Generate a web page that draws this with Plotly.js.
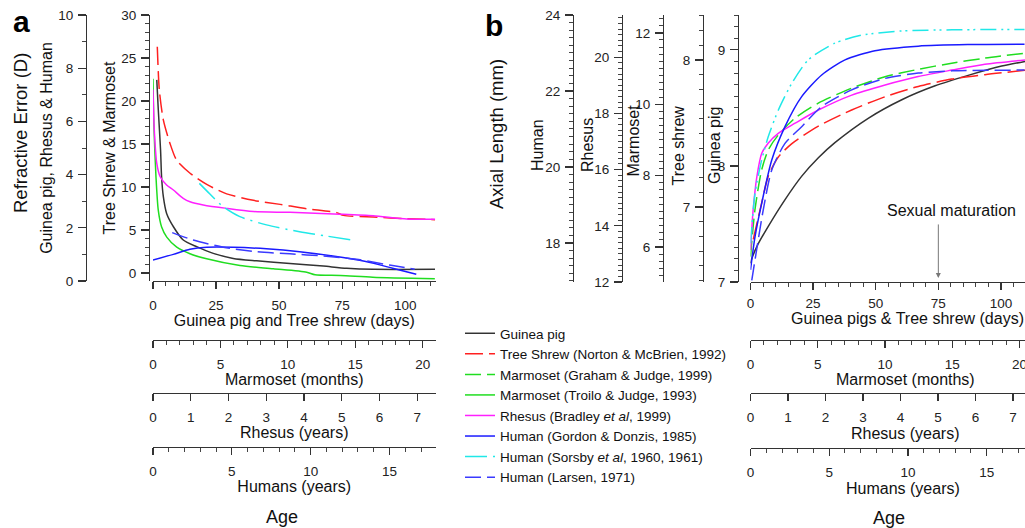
<!DOCTYPE html>
<html><head><meta charset="utf-8">
<script src="https://cdn.plot.ly/plotly-3.0.1.min.js"></script>
<style>html,body{margin:0;padding:0;background:#fff}#chart{width:1025px;height:528px}</style>
</head><body><div id="chart"></div>
<script>
// ================= DATA =================
// ---- Panel a: refractive error (D) ----
const gpDaysA  = [1.5, 2.1, 3.0, 3.4, 4.1, 5.4, 8.1, 12.0, 17.3, 23.9, 31.8, 41.1, 54.3, 67.5, 76.8, 87.4, 111.8];
const gpRefA   = [7.56, 6.43, 4.92, 3.92, 3.17, 2.54, 2.04, 1.54, 1.29, 1.04, 0.85, 0.76, 0.66, 0.56, 0.48, 0.44, 0.44];
const tsDaysA  = [1.7, 2.5, 4.1, 6.7, 9.4, 14.7, 21.3, 29.2, 39.8, 50.4, 60.9, 72.8, 75.5, 87.4, 100.6, 111.8];
const tsRefA   = [26.3, 21.3, 17.8, 15.1, 13.1, 11.6, 10.3, 9.2, 8.45, 7.98, 7.48, 7.02, 6.7, 6.5, 6.32, 6.2];
const marmMonthsA = [0, 0.07, 0.22, 0.39, 0.64, 1.02, 1.76, 2.74, 3.98, 6.45, 8.93, 11.4, 12.02, 13.9, 16.3, 20.9];
const marmRefA    = [22.6, 17.0, 11.2, 7.3, 5.34, 4.17, 3.0, 2.24, 1.66, 0.87, 0.49, 0.09, -0.21, -0.29, -0.49, -0.68];
const rhYearsA = [0, 0.03, 0.1, 0.19, 0.36, 0.54, 0.8, 0.98, 1.33, 1.95, 2.66, 3.63, 4.95, 5.83, 6.72, 7.47];
const rhRefA   = [7.2, 5.8, 4.42, 3.92, 3.61, 3.42, 3.11, 2.98, 2.86, 2.73, 2.61, 2.58, 2.51, 2.45, 2.33, 2.32];
const gdYearsA = [0, 1.29, 2.34, 3.4, 5.09, 7.2, 9.3, 11.4, 13.5, 15.2, 16.7];
const gdRefA   = [0.79, 1.0, 1.19, 1.27, 1.27, 1.21, 1.10, 0.94, 0.73, 0.48, 0.25];
const sorsbyYearsA = [2.94, 3.61, 4.46, 5.51, 7.2, 9.3, 11.0, 12.9];
const sorsbyRefA   = [3.67, 3.27, 2.79, 2.42, 2.11, 1.85, 1.69, 1.52];
const larsenYearsA = [1.22, 2.55, 4.46, 6.57, 8.68, 10.8, 12.9, 15.0, 16.6];
const larsenRefA   = [1.82, 1.54, 1.27, 1.10, 1.02, 0.94, 0.82, 0.6, 0.44];

// ---- Panel b: axial length (mm) ----
const gpDaysB  = [0, 0.5, 3.1, 7.1, 13.8, 20.4, 27.1, 33.7, 47.0, 60.4, 73.7, 86.9, 100.3, 109.6];
const gpAxB    = [7.16, 7.2, 7.33, 7.48, 7.71, 7.91, 8.07, 8.2, 8.41, 8.57, 8.69, 8.78, 8.86, 8.90];
const tsDaysB  = [1.1, 4.5, 7.1, 11.1, 16.4, 27.1, 40.4, 53.7, 67.0, 80.3, 93.6, 109.6];
const tsAxB    = [6.78, 7.03, 7.21, 7.34, 7.43, 7.55, 7.66, 7.75, 7.82, 7.87, 7.90, 7.93];
const marmMonthsB = [0, 0.33, 0.83, 1.32, 2.07, 3.31, 5.04, 7.52, 10.0, 12.5, 14.96, 17.4, 20.4];
const marmAxB     = [5.73, 7.04, 8.16, 8.72, 9.14, 9.61, 10.03, 10.45, 10.77, 10.98, 11.15, 11.29, 11.43];
const rhYearsB = [0, 0.07, 0.17, 0.3, 0.47, 0.74, 1.19, 1.81, 2.7, 3.59, 4.47, 5.37, 6.25, 7.32];
const rhAxB    = [13.14, 14.56, 15.75, 16.58, 16.94, 17.29, 17.65, 18.12, 18.65, 19.01, 19.31, 19.54, 19.75, 19.9];
const gdYearsB = [0, 0.29, 0.71, 1.35, 2.19, 3.25, 4.52, 6.0, 7.9, 10.65, 13.8, 17.4];
const gdAxB    = [17.29, 18.17, 19.04, 20.18, 21.06, 21.85, 22.42, 22.82, 23.06, 23.18, 23.22, 23.23];
const sorsbyYearsB = [0, 0.29, 0.71, 1.13, 1.77, 2.62, 3.67, 5.37, 7.06, 9.6, 12.8, 17.4];
const sorsbyAxB    = [17.99, 19.31, 20.18, 20.8, 21.5, 22.2, 22.82, 23.26, 23.47, 23.58, 23.61, 23.62];
const larsenYearsB = [0.08, 0.39, 0.81, 1.35, 2.19, 3.25, 4.52, 6.43, 8.54, 10.65, 12.8, 17.4];
const larsenAxB    = [17.01, 17.82, 18.87, 19.92, 20.62, 21.06, 21.59, 22.03, 22.33, 22.47, 22.53, 22.55];

// ---- tick values ----
const daysTicks   = [0, 25, 50, 75, 100];
const monthsTicks = [0, 5, 10, 15, 20];
const rhesusTicks = [0, 1, 2, 3, 4, 5, 6, 7];
const humanTicks  = [0, 5, 10, 15];
const refLeftTicks  = [0, 2, 4, 6, 8, 10];
const refRightTicks = [0, 5, 10, 15, 20, 25, 30];
const axHumanTicks  = [18, 20, 22, 24];
const axRhesusTicks = [12, 14, 16, 18, 20];
const axMarmTicks   = [6, 8, 10, 12];
const axTsTicks     = [7, 8];
const axGpTicks     = [7, 8, 9];

// ---- series names ----
const names = {
  gp: 'Guinea pig',
  ts: 'Tree Shrew (Norton &amp; McBrien, 1992)',
  graham: 'Marmoset (Graham &amp; Judge, 1999)',
  troilo: 'Marmoset (Troilo &amp; Judge, 1993)',
  rh: 'Rhesus (Bradley <i>et al</i>, 1999)',
  gd: 'Human (Gordon &amp; Donzis, 1985)',
  sorsby: 'Human (Sorsby <i>et al</i>, 1960, 1961)',
  larsen: 'Human (Larsen, 1971)'
};

// ================= STYLE =================
const FONT = 'Liberation Sans, Arial, Helvetica, sans-serif';
const W = 1025, H = 528;
const fx = v => v / W;
const fy = v => 1 - v / H;
const C = {gp:'#333333', ts:'#ff2020', marm:'#20dd20', rh:'#ff20ff', gd:'#1a1aff', sorsby:'#20e8e8', larsen:'#3a3aff'};

function ax(extra, minorDt, isY) {
  const a = {
    showline: true, linecolor: '#333', linewidth: 1.3,
    ticks: 'outside', ticklen: isY ? 8 : 7, tickwidth: 1.3, tickcolor: '#333',
    showgrid: false, zeroline: false, fixedrange: true,
    tickmode: 'array', ticklabeloverflow: 'allow',
    tickfont: {family: FONT, size: 13.5, color: '#222'},
    ticklabelstandoff: isY ? 2 : 4
  };
  if (minorDt) a.minor = {tickmode: 'linear', tick0: 0, dtick: minorDt, ticks: 'outside', ticklen: 4, tickwidth: 1, tickcolor: '#444', showgrid: false};
  return Object.assign(a, extra);
}

function tr(x, y, xa, ya, color, dash, name, group, show) {
  return {x: x, y: y, xaxis: xa, yaxis: ya, type: 'scatter', mode: 'lines',
    line: {color: color, width: 1.5, dash: dash, shape: 'spline', smoothing: 0.7},
    name: name, legendgroup: group, showlegend: show, hoverinfo: 'skip'};
}

const data = [
  tr(gpDaysA, gpRefA, 'x', 'y', C.gp, 'solid', names.gp, 'gp', true),
  tr(tsDaysA, tsRefA, 'x', 'y2', C.ts, '18px,6px', names.ts, 'ts', true),
  tr(marmMonthsB, marmAxB, 'x6', 'y5', C.marm, '16px,6px', names.graham, 'graham', true),
  tr(marmMonthsA, marmRefA, 'x2', 'y2', C.marm, 'solid', names.troilo, 'troilo', true),
  tr(rhYearsA, rhRefA, 'x3', 'y', C.rh, 'solid', names.rh, 'rh', true),
  tr(gdYearsA, gdRefA, 'x4', 'y', C.gd, 'solid', names.gd, 'gd', true),
  tr(sorsbyYearsA, sorsbyRefA, 'x4', 'y', C.sorsby, '22px,6px,2px,6px', names.sorsby, 'sorsby', true),
  tr(larsenYearsA, larsenRefA, 'x4', 'y', C.larsen, '16px,6px', names.larsen, 'larsen', true),
  // panel b (rest)
  tr(gpDaysB, gpAxB, 'x5', 'y3', C.gp, 'solid', names.gp, 'gp', false),
  tr(tsDaysB, tsAxB, 'x5', 'y4', C.ts, '18px,6px', names.ts, 'ts', false),
  tr(rhYearsB, rhAxB, 'x7', 'y6', C.rh, 'solid', names.rh, 'rh', false),
  tr(gdYearsB, gdAxB, 'x8', 'y7', C.gd, 'solid', names.gd, 'gd', false),
  tr(sorsbyYearsB, sorsbyAxB, 'x8', 'y7', C.sorsby, '16px,5px,2px,4px,2px,5px', names.sorsby, 'sorsby', false),
  tr(larsenYearsB, larsenAxB, 'x8', 'y7', C.larsen, '16px,6px', names.larsen, 'larsen', false)
];

const titleFont = {family: FONT, size: 16, color: '#111'};
const yDom = [fy(281), fy(15)];
const yDomB = [fy(282), fy(15)];
const xDomA = [fx(153), fx(435.5)];
const xDomB = [fx(750.5), 1];

function note(text, x, y, size, angle, bold) {
  return {text: bold ? '<b>' + text + '</b>' : text, xref: 'paper', yref: 'paper', x: fx(x), y: fy(y),
    xanchor: 'center', yanchor: 'middle', textangle: angle || 0, showarrow: false,
    font: {family: FONT, size: size, color: bold ? '#000' : '#111'}};
}

const layout = {
  width: W, height: H,
  margin: {l: 0, r: 0, t: 0, b: 0},
  paper_bgcolor: '#fff', plot_bgcolor: 'rgba(0,0,0,0)',
  font: {family: FONT, size: 13, color: '#222'},
  showlegend: true,
  legend: {x: fx(460), y: fy(318), xanchor: 'left', yanchor: 'top', bgcolor: 'rgba(0,0,0,0)',
           font: {family: FONT, size: 13.5, color: '#111'}, tracegroupgap: 0, itemwidth: 30},
  // ---- panel a ----
  xaxis: ax({domain: xDomA, anchor: 'y', range: [0, 112], tickvals: daysTicks,
             title: {text: 'Guinea pig and Tree shrew (days)', font: titleFont, standoff: 2}}, 5),
  xaxis2: ax({domain: xDomA, overlaying: 'x', anchor: 'free', position: fy(340), range: [0, 20.95], tickvals: monthsTicks,
             title: {text: 'Marmoset (months)', font: titleFont, standoff: 2}}, 1),
  xaxis3: ax({domain: xDomA, overlaying: 'x', anchor: 'free', position: fy(393), range: [0, 7.48], tickvals: rhesusTicks,
             title: {text: 'Rhesus (years)', font: titleFont, standoff: 2}}),
  xaxis4: ax({domain: xDomA, overlaying: 'x', anchor: 'free', position: fy(447), range: [0, 17.92], tickvals: humanTicks,
             title: {text: 'Humans (years)', font: titleFont, standoff: 2}}, 1),
  yaxis: ax({domain: yDom, anchor: 'free', position: fx(86), range: [0, 10], tickvals: refLeftTicks,
             title: {text: 'Guinea pig, Rhesus &amp; Human', font: titleFont, standoff: 0}}, 1, true),
  yaxis2: ax({domain: yDom, overlaying: 'y', anchor: 'free', position: fx(149), range: [-0.93, 30], tickvals: refRightTicks,
             title: {text: 'Tree Shrew &amp; Marmoset', font: titleFont, standoff: 0}}, 1, true),
  // ---- panel b ----
  xaxis5: ax({domain: xDomB, anchor: 'y3', range: [0, 109.6], tickvals: daysTicks, ticklabelstandoff: 1}, 5),
  xaxis6: ax({domain: xDomB, overlaying: 'x5', anchor: 'free', position: fy(340), range: [0, 20.41], tickvals: monthsTicks}, 1),
  xaxis7: ax({domain: xDomB, overlaying: 'x5', anchor: 'free', position: fy(393), range: [0, 7.32], tickvals: rhesusTicks}),
  xaxis8: ax({domain: xDomB, overlaying: 'x5', anchor: 'free', position: fy(448), range: [0, 17.43], tickvals: humanTicks}, 1),
  yaxis3: ax({domain: yDomB, anchor: 'free', position: fx(738), range: [7, 9.30], tickvals: axGpTicks}, 0.1, true),
  yaxis4: ax({domain: yDomB, overlaying: 'y3', anchor: 'free', position: fx(703), range: [6.49, 8.306], tickvals: axTsTicks}, 0.1, true),
  yaxis5: ax({domain: yDomB, overlaying: 'y3', anchor: 'free', position: fx(663), range: [5.02, 12.5], tickvals: axMarmTicks}, 0.2, true),
  yaxis6: ax({domain: yDomB, overlaying: 'y3', anchor: 'free', position: fx(622), range: [12, 21.5], tickvals: axRhesusTicks}, 0.2, true),
  yaxis7: ax({domain: yDomB, overlaying: 'y3', anchor: 'free', position: fx(573), range: [16.97, 24], tickvals: axHumanTicks}, 0.2, true),
  annotations: [
    note('a', 21.5, 21, 30, 0, true),
    note('b', 494, 25, 30, 0, true),
    note('Refractive Error (D)', 20, 133, 18.5, -90),
    note('Axial Length (mm)', 496, 134, 18.5, -90),
    note('Human', 537, 145, 16, -90),
    note('Rhesus', 587, 145, 16, -90),
    note('Marmoset', 632.5, 141, 16, -90),
    note('Tree shrew', 677.5, 146, 16, -90),
    note('Guinea pig', 714, 146, 16, -90),
    note('Guinea pigs &amp; Tree shrew (days)', 907.5, 318, 16),
    note('Marmoset (months)', 905.5, 379, 16),
    note('Rhesus (years)', 905, 433, 16),
    note('Humans (years)', 903, 488, 16),
    note('Age', 282, 517, 18),
    note('Age', 889, 518, 18),
    note('Sexual maturation', 951.7, 210, 16),
    {text: '', xref: 'x5', yref: 'y3', x: 75, y: 7.035, showarrow: true, ax: 0, ay: -55, arrowhead: 2, arrowsize: 1, arrowwidth: 1, arrowcolor: '#777'}
  ]
};

Plotly.newPlot('chart', data, layout, {staticPlot: true, displayModeBar: false});
</script>
</body></html>
